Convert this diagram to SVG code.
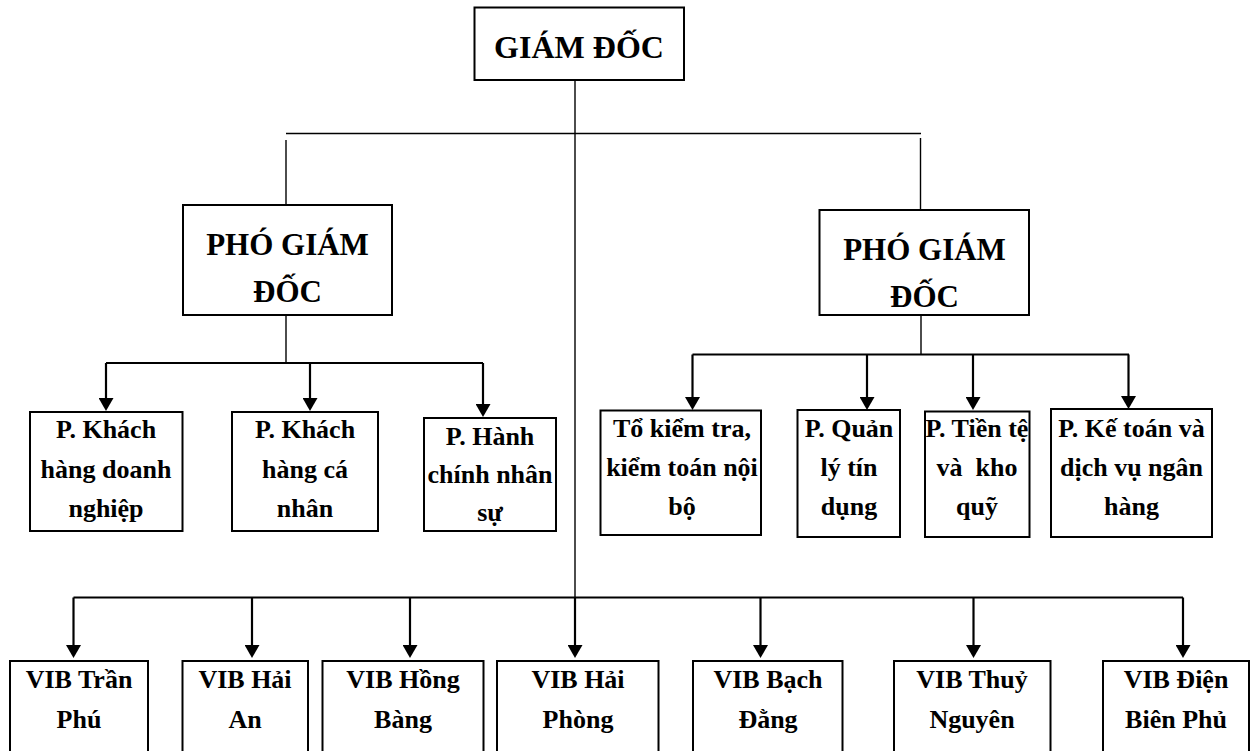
<svg xmlns="http://www.w3.org/2000/svg" width="1254" height="751" viewBox="0 0 1254 751">
<style>
.box{fill:#fff;stroke:#000;stroke-width:2}
.t{font-family:"Liberation Serif","Times New Roman",serif;font-weight:bold;fill:#000;text-anchor:middle;white-space:pre}
.big{font-size:32px}
.mid{font-size:31px}
.sm{font-size:26px}
.thin{fill:none;stroke:#000;stroke-width:1.4}
.arr{fill:none;stroke:#000;stroke-width:2.2}
</style>
<defs>
<marker id="ah" markerUnits="userSpaceOnUse" markerWidth="14" markerHeight="15" refX="1" refY="7.5" orient="auto">
<path d="M0,0 L13,7.5 L0,15 z" fill="#000"/>
</marker>
</defs>
<rect width="1254" height="751" fill="#fff"/>
<g id="connectors">
<path class="thin" d="M575,80 V597"/>
<path class="thin" d="M286,133.5 H921"/>
<path class="thin" d="M286,140 V205"/>
<path class="thin" d="M920.5,138 V210"/>
<path class="thin" d="M286,307 V363"/>
<path class="arr" d="M106,363 H483"/>
<path class="arr" d="M106,363 V399" marker-end="url(#ah)"/>
<path class="arr" d="M310,363 V399" marker-end="url(#ah)"/>
<path class="arr" d="M483,363 V405" marker-end="url(#ah)"/>
<path class="thin" d="M921,308 V354.5"/>
<path class="arr" d="M692.5,354.5 H1129"/>
<path class="arr" d="M692.5,354.5 V398" marker-end="url(#ah)"/>
<path class="arr" d="M867,354.5 V398" marker-end="url(#ah)"/>
<path class="arr" d="M973,354.5 V398" marker-end="url(#ah)"/>
<path class="arr" d="M1128.5,354.5 V397" marker-end="url(#ah)"/>
<path class="arr" d="M73.5,597.5 H1183"/>
<path class="arr" d="M73.5,597.5 V646" marker-end="url(#ah)"/>
<path class="arr" d="M252,597.5 V646" marker-end="url(#ah)"/>
<path class="arr" d="M410,597.5 V646" marker-end="url(#ah)"/>
<path class="arr" d="M575,597.5 V646" marker-end="url(#ah)"/>
<path class="arr" d="M760.5,597.5 V646" marker-end="url(#ah)"/>
<path class="arr" d="M973.5,597.5 V646" marker-end="url(#ah)"/>
<path class="arr" d="M1183,597.5 V646" marker-end="url(#ah)"/>
</g>
<g id="giam-doc">
<rect class="box" x="474.5" y="7.5" width="209.5" height="72.5"/>
<text class="t big" x="579" y="58">GIÁM ĐỐC</text>
</g>
<g id="pgd-left">
<rect class="box" x="183" y="205" width="209" height="110"/>
<text class="t mid" x="287.5" y="255">PHÓ GIÁM</text>
<text class="t mid" x="287.5" y="302">ĐỐC</text>
</g>
<g id="pgd-right">
<rect class="box" x="819.5" y="210" width="209.5" height="105"/>
<text class="t mid" x="924.5" y="260">PHÓ GIÁM</text>
<text class="t mid" x="924.5" y="307">ĐỐC</text>
</g>
<g id="p-khdn">
<rect class="box" x="30" y="412" width="152.5" height="119"/>
<text class="t sm" x="106" y="438">P. Khách</text>
<text class="t sm" x="106" y="478">hàng doanh</text>
<text class="t sm" x="106" y="517">nghiệp</text>
</g>
<g id="p-khcn">
<rect class="box" x="232" y="412" width="146" height="119"/>
<text class="t sm" x="305" y="438">P. Khách</text>
<text class="t sm" x="305" y="478">hàng cá</text>
<text class="t sm" x="305" y="517">nhân</text>
</g>
<g id="p-hcns">
<rect class="box" x="424" y="418" width="132" height="113"/>
<text class="t sm" x="490" y="445">P. Hành</text>
<text class="t sm" x="490" y="483">chính nhân</text>
<text class="t sm" x="490" y="521">sự</text>
</g>
<g id="to-kiem-tra">
<rect class="box" x="600.5" y="410.5" width="160.5" height="124.5"/>
<text class="t sm" x="682" y="437">Tổ kiểm tra,</text>
<text class="t sm" x="682" y="476">kiểm toán nội</text>
<text class="t sm" x="682" y="515">bộ</text>
</g>
<g id="p-qltd">
<rect class="box" x="797.5" y="410" width="102.5" height="127"/>
<text class="t sm" x="849" y="437">P. Quản</text>
<text class="t sm" x="849" y="476">lý tín</text>
<text class="t sm" x="849" y="515">dụng</text>
</g>
<g id="p-tien-te">
<rect class="box" x="925" y="411.5" width="104.5" height="125.5"/>
<text class="t sm" x="977" y="437">P. Tiền tệ</text>
<text class="t sm" x="977" y="476">và  kho</text>
<text class="t sm" x="977" y="515">quỹ</text>
</g>
<g id="p-ke-toan">
<rect class="box" x="1051" y="409" width="161" height="128"/>
<text class="t sm" x="1131.5" y="437">P. Kế toán và</text>
<text class="t sm" x="1131.5" y="476">dịch vụ ngân</text>
<text class="t sm" x="1131.5" y="515">hàng</text>
</g>
<g id="vib-tran-phu">
<rect class="box" x="10" y="661" width="138" height="110"/>
<text class="t sm" x="79" y="688">VIB Trần</text>
<text class="t sm" x="79" y="728">Phú</text>
</g>
<g id="vib-hai-an">
<rect class="box" x="182.5" y="661" width="125.5" height="110"/>
<text class="t sm" x="245" y="688">VIB Hải</text>
<text class="t sm" x="245" y="728">An</text>
</g>
<g id="vib-hong-bang">
<rect class="box" x="322.5" y="661" width="161" height="110"/>
<text class="t sm" x="403" y="688">VIB Hồng</text>
<text class="t sm" x="403" y="728">Bàng</text>
</g>
<g id="vib-hai-phong">
<rect class="box" x="497" y="661" width="161.5" height="110"/>
<text class="t sm" x="578" y="688">VIB Hải</text>
<text class="t sm" x="578" y="728">Phòng</text>
</g>
<g id="vib-bach-dang">
<rect class="box" x="693" y="661" width="149.5" height="110"/>
<text class="t sm" x="768" y="688">VIB Bạch</text>
<text class="t sm" x="768" y="728">Đằng</text>
</g>
<g id="vib-thuy-nguyen">
<rect class="box" x="894" y="661" width="156.5" height="110"/>
<text class="t sm" x="972" y="688">VIB Thuỷ</text>
<text class="t sm" x="972" y="728">Nguyên</text>
</g>
<g id="vib-dien-bien-phu">
<rect class="box" x="1103" y="661" width="146" height="110"/>
<text class="t sm" x="1176" y="688">VIB Điện</text>
<text class="t sm" x="1176" y="728">Biên Phủ</text>
</g>
</svg>
